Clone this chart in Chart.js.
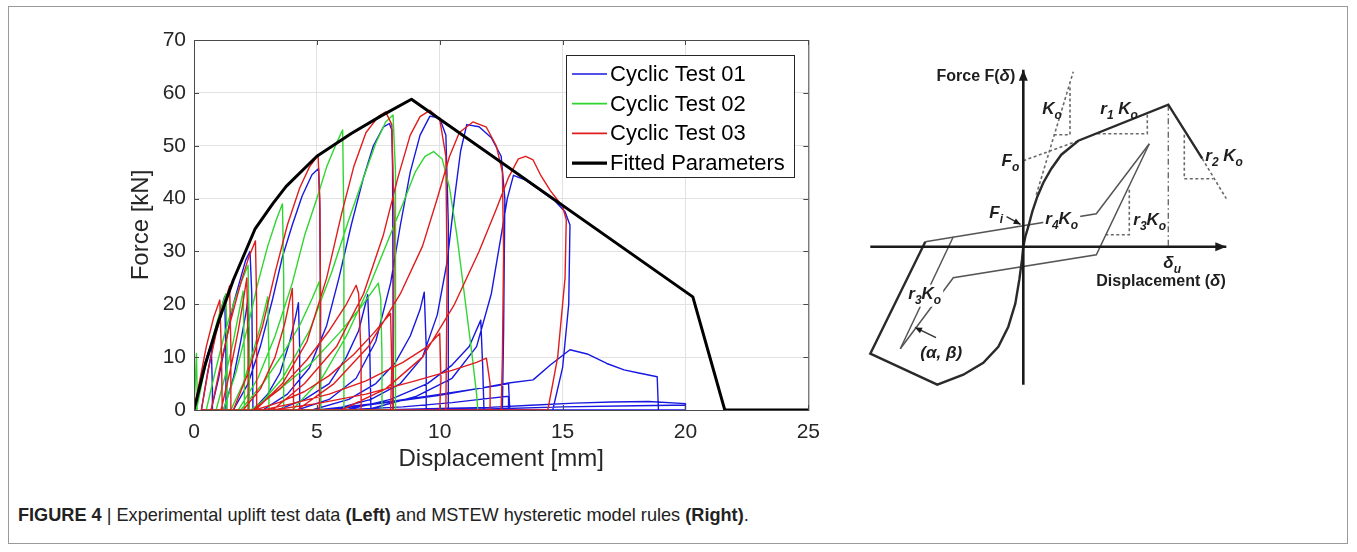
<!DOCTYPE html>
<html>
<head>
<meta charset="utf-8">
<script src="https://cdn.jsdelivr.net/npm/chart.js@4.4.1/dist/chart.umd.min.js"></script>
<style>
    body { margin: 0; background: #fff; width: 1357px; height: 552px; overflow: hidden; position: relative; font-family: "Liberation Sans", Arial, sans-serif; }
    #frame { position: absolute; left: 8px; top: 6px; width: 1340px; height: 538px; border: 1px solid #9a9a9a; box-sizing: border-box; }
    #leftChart { position: absolute; left: 0; top: 0; }
    #rightChart { position: absolute; left: 830px; top: 40px; }
    #caption { position: absolute; left: 18px; top: 504px; font: 19px "Liberation Sans", sans-serif; color: #222; white-space: nowrap; transform: scaleX(0.955); transform-origin: left top; }
</style>
</head>
<body>
<div id="frame"></div>
<canvas id="leftChart" width="830" height="480"></canvas>
<canvas id="rightChart" width="520" height="380"></canvas>
<div id="caption"><b>FIGURE 4</b> | Experimental uplift test data <b>(Left)</b> and MSTEW hysteretic model rules <b>(Right)</b>.</div>
<script>
// ---- left panel: uplift test data [mm, kN] ----
const xTicks = [0, 5, 10, 15, 20, 25];
const yTicks = [0, 10, 20, 30, 40, 50, 60, 70];
const seriesNames = ['Cyclic Test 01', 'Cyclic Test 02', 'Cyclic Test 03', 'Fitted Parameters'];

const test01 = [
    [0,0],[0.2,4],[0.45,9],[0.7,12.5],[0.75,4],[0.75,0],
    [0.3,0],[0.55,7],[0.85,14],[1.1,19],[1.25,21.5],[1.3,10],[1.3,0],
    [0.7,0],[1.0,6],[1.3,13],[1.6,20],[1.9,25],[2.1,28.3],[2.28,30],[2.35,22],[2.4,0],
    [1.2,0],[1.6,6],[1.9,13],[2.1,18],[2.2,21],[2.25,8],[2.25,0],
    [1.6,0],[2.2,5],[2.7,12],[3.2,21],[3.6,29],[4.0,35],[4.4,40.5],[4.8,44.5],[5.07,45.7],[5.12,38],[5.15,18],[5.15,0],
    [2.4,0],[3.0,3],[3.5,7],[3.9,13],[4.15,18],[4.25,20.3],[4.3,12],[4.3,0],
    [2.8,0],[3.8,3],[4.7,8],[5.4,16],[5.9,25],[6.4,35],[6.9,44],[7.3,50],[7.7,53.5],[7.95,54.2],[8.05,53],[8.08,46],[8.1,22],[8.1,0],
    [3.4,0],[4.5,2],[5.5,5],[6.2,10],[6.7,15],[7.07,21.8],[7.15,12],[7.2,0],
    [4.2,0],[5.5,2],[6.6,6],[7.4,13],[8.0,24],[8.4,35],[8.8,45],[9.2,52],[9.6,55.6],[10.0,55.2],[10.25,52],[10.35,35],[10.35,0],
    [4.8,0],[6.3,2],[7.4,5],[8.2,9],[8.8,14],[9.2,19],[9.37,22.3],[9.45,12],[9.45,0],
    [5.6,0],[7.2,2],[8.4,5],[9.3,10],[9.9,18],[10.3,28],[10.6,40],[10.85,49],[11.1,54],[11.6,53.6],[12.1,51.5],[12.5,48],[12.65,40],[12.6,15],[12.55,0],
    [6.2,0],[8,2],[9.5,5],[10.5,8.5],[11.2,12],[11.67,17],[11.75,8],[11.8,0],
    [7.0,0],[9,2.5],[10.5,6],[11.5,12],[12.1,22],[12.5,33],[12.75,40],[13.0,44.4],[13.5,43.5],[14.1,41.5],[14.7,39.5],[15.1,37.5],[15.3,35],[15.25,20],[15.0,8],[14.6,0],
    [5.0,0],[7.5,1.3],[9.5,2.6],[11.2,3.8],[12.3,4.6],[12.8,5.0],[12.85,0],
    [5.5,0],[8,1.5],[10,2.8],[11.5,4],[12.8,5.1],[13.8,5.7],[14.5,8.5],[15.3,11.4],[16,10.6],[16.8,8.8],[17.5,7.6],[18.1,7],[18.85,6.3],[18.9,0],
    [6.0,0],[8.5,0.6],[10.5,1.4],[12,2.2],[12.8,2.6],[12.8,0],
    [7.5,0],[10,0.3],[12,0.5],[13.7,0.9],[15.5,1.3],[17,1.5],[18.5,1.6],[20,1.2],[20,0],
    [8.5,0],[12,0.2],[15,0.6],[18,0.8],[19.5,0.9],[20,0.9],[20,0]
];

const test02 = [
    [0,0],[0.05,5],[0.1,10.7],[0.13,3],[0.13,0],
    [0.1,0],[0.4,7],[0.75,13.5],[1.05,18.5],[1.3,22],[1.35,10],[1.35,0],
    [0.5,0],[0.85,7],[1.25,14.5],[1.6,20],[1.95,24.5],[2.2,27.4],[2.25,15],[2.25,0],
    [0.9,0],[1.3,7],[1.6,13],[1.85,19],[2.0,22.5],[2.05,10],[2.05,0],
    [1.2,0],[1.7,7],[2.2,16],[2.6,24],[3.0,31],[3.35,36],[3.6,39],[3.65,25],[3.65,0],
    [1.5,0],[2.0,5],[2.4,11],[2.75,16.5],[3.0,21.4],[3.05,10],[3.05,0],
    [1.8,0],[2.6,6],[3.3,14],[4.0,24],[4.5,33],[5.0,40],[5.4,46],[5.8,50.5],[6.05,53],[6.1,35],[6.1,0],
    [1.9,0],[2.8,5],[3.6,10.5],[4.3,16],[4.8,21],[5.1,24.3],[5.15,12],[5.15,0],
    [2.5,0],[3.6,6],[4.7,15],[5.6,26],[6.3,36],[6.9,44],[7.4,50.5],[7.8,54.5],[8.1,55.8],[8.2,45],[8.2,20],[8.2,0],
    [2.3,0],[3.5,4],[4.8,9],[5.9,14.5],[6.8,19.5],[7.5,24],[7.6,21],[7.65,10],[7.65,0],
    [4.0,0],[5.2,6],[6.2,14],[7.1,23],[7.8,31],[8.5,39],[9.0,45],[9.4,48],[9.75,48.9],[10.1,47.5],[10.4,42],[10.7,33],[11.0,22],[11.3,11],[11.5,3],[11.55,0]
];

const test03 = [
    [0,0],[0.25,6],[0.5,12],[0.8,17.5],[1.05,20.8],[1.12,10],[1.15,0],
    [0.3,0],[0.6,8],[0.9,14.5],[1.2,19.5],[1.45,23.5],[1.5,12],[1.5,0],
    [0.7,0],[1.1,9],[1.5,17],[1.9,24],[2.2,28.5],[2.5,32],[2.55,20],[2.55,0],
    [1.1,0],[1.5,8],[1.8,15],[2.0,20.5],[2.15,25],[2.2,12],[2.2,0],
    [1.6,0],[2.2,7],[2.8,16],[3.3,26],[3.8,35],[4.3,42],[4.7,46],[5.05,48.2],[5.12,40],[5.15,20],[5.1,0],
    [2.0,0],[2.7,4],[3.3,10],[3.7,16.5],[4.0,23],[4.05,12],[4.05,0],
    [2.5,0],[3.6,5],[4.6,13],[5.4,25],[6.0,37],[6.5,46],[7.0,52.5],[7.5,55.5],[7.8,56.4],[8.05,54],[8.15,35],[8.1,0],
    [2.4,0],[3.5,4],[4.6,9.5],[5.5,15],[6.2,20],[6.6,23.6],[6.7,22],[6.8,10],[6.8,0],
    [3.2,0],[4.5,5],[5.8,12],[6.9,22],[7.7,33],[8.3,44],[8.8,52],[9.2,55.5],[9.6,56.7],[10.0,55],[10.25,48],[10.3,25],[10.25,0],
    [2.5,0],[3.5,1.5],[4.5,3.5],[5.5,6.5],[6.5,10.5],[7.3,14.5],[8.0,18.3],[8.05,8],[8.0,0],
    [4.2,0],[5.7,5],[7.1,12],[8.4,22],[9.3,31],[9.9,40],[10.4,48],[10.8,52.5],[11.35,54.5],[11.9,53.5],[12.3,50],[12.55,45],[12.6,30],[12.55,10],[12.5,0],
    [2.8,0],[4.0,1.2],[5.5,3],[7.0,5.5],[8.5,9],[9.5,12],[10.0,14.5],[10.05,6],[10.0,0],
    [6.0,0],[7.8,4],[9.3,10],[10.6,20],[11.6,30],[12.3,38],[12.8,44],[13.2,47.5],[13.5,48],[13.8,47.3],[14.1,44.5],[14.5,41.5],[15.0,38.5],[15.15,36],[15.1,25],[14.8,10],[14.4,0],
    [3.2,0],[5.0,1.2],[7.0,3],[9.0,5.5],[10.5,7.5],[11.5,9],[11.9,9.8],[12.05,5],[12.05,0]
];

const fitted = [[0,0],[0.45,8.5],[1,16.8],[1.6,24.6],[2.48,34.2],[3.2,39],[3.75,42.3],[5,48],[6.4,52.3],[7.6,55.6],[8.85,58.8],[20.3,21.4],[21.6,0],[25,0]];

const seriesColors = ['#1818e0', '#2fd62f', '#e01c1c', '#000000'];
const seriesWidths = [1.4, 1.4, 1.4, 3];

const toPts = arr => arr.map(([x, y]) => ({ x, y }));

// MATLAB-ish box, inward ticks and legend
const matlabBox = {
    id: 'matlabBox',
    afterDatasetsDraw(chart) {
        const { ctx, chartArea: a, scales } = chart;
        ctx.save();
        ctx.strokeStyle = '#4a4a4a';
        ctx.lineWidth = 1;
        ctx.strokeRect(a.left + 0.5, a.top + 0.5, a.right - a.left, a.bottom - a.top);
        ctx.beginPath();
        xTicks.forEach(v => {
            const px = Math.round(scales.x.getPixelForValue(v)) + 0.5;
            ctx.moveTo(px, a.bottom); ctx.lineTo(px, a.bottom - 5);
            ctx.moveTo(px, a.top); ctx.lineTo(px, a.top + 5);
        });
        yTicks.forEach(v => {
            const py = Math.round(scales.y.getPixelForValue(v)) + 0.5;
            ctx.moveTo(a.left, py); ctx.lineTo(a.left + 5, py);
            ctx.moveTo(a.right, py); ctx.lineTo(a.right - 5, py);
        });
        ctx.stroke();
        ctx.restore();
    },
    afterDraw(chart) {
        const ctx = chart.ctx;
        const box = { l: 566, t: 55, r: 794, b: 177 };
        ctx.save();
        ctx.fillStyle = '#fff';
        ctx.fillRect(box.l, box.t, box.r - box.l, box.b - box.t);
        ctx.strokeStyle = '#262626';
        ctx.lineWidth = 1;
        ctx.strokeRect(box.l + 0.5, box.t + 0.5, box.r - box.l, box.b - box.t);
        ctx.font = '22px "Liberation Sans"';
        ctx.textBaseline = 'middle';
        seriesNames.forEach((name, i) => {
            const y = 74 + i * 29.7;
            ctx.strokeStyle = seriesColors[i];
            ctx.lineWidth = seriesWidths[i] + 0.3;
            ctx.beginPath(); ctx.moveTo(572, y); ctx.lineTo(607, y); ctx.stroke();
            ctx.fillStyle = '#000';
            ctx.fillText(name, 610, y + 1);
        });
        ctx.restore();
    }
};

const leftSets = [test01, test02, test03, fitted].map((arr, i) => ({
    label: seriesNames[i],
    data: toPts(arr),
    showLine: true,
    borderColor: seriesColors[i],
    borderWidth: seriesWidths[i],
    borderJoinStyle: 'round',
    pointRadius: 0,
    tension: 0,
    order: 3 - i
}));

new Chart(document.getElementById('leftChart'), {
    type: 'scatter',
    data: { datasets: leftSets },
    options: {
        responsive: false,
        animation: false,
        devicePixelRatio: 1,
        layout: { padding: { left: 0, top: 40, right: 20, bottom: 0 } },
        plugins: { legend: { display: false }, tooltip: { enabled: false } },
        scales: {
            x: {
                type: 'linear', min: 0, max: 25,
                afterBuildTicks: s => { s.ticks = xTicks.map(v => ({ value: v })); },
                ticks: { font: { family: 'Liberation Sans', size: 21 }, color: '#262626', padding: 10 },
                grid: { color: '#e2e2e2', drawTicks: false },
                border: { display: false },
                title: { display: true, text: 'Displacement [mm]', font: { family: 'Liberation Sans', size: 24 }, color: '#262626', padding: { top: 0, bottom: 6 } },
                afterFit: s => { s.height = 70; }
            },
            y: {
                type: 'linear', min: 0, max: 70,
                afterBuildTicks: s => { s.ticks = yTicks.map(v => ({ value: v })); },
                ticks: { font: { family: 'Liberation Sans', size: 21 }, color: '#262626', padding: 8 },
                grid: { color: '#e2e2e2', drawTicks: false },
                border: { display: false },
                title: { display: true, text: 'Force [kN]', font: { family: 'Liberation Sans', size: 24 }, color: '#262626', padding: { top: 127, bottom: 0 } },
                afterFit: s => { s.width = 194; }
            }
        }
    },
    plugins: [matlabBox]
});

// ---- right panel: hysteretic model sketch (diagram units, origin at axes crossing) ----
const modelAxisX = [[-153, 0], [203, 0]];
const modelAxisY = [[0, -138], [0, 177]];
const modelBackbone = [[-98,5],[-153,-107],[-86,-138],[-60,-128],[-40,-116],[-25,-100],[-15,-80],[-8,-57],[-4,-33],[-1.3,-13],[0,0],[2,10],[5,20],[9,35],[14,50],[20,64],[28,78],[38,92],[55,106],[145,142],[179,88]];
const modelReload = [[-98,5],[73,33],[126,103]];
const modelUnload = [[126,103],[73,-8],[-70,-31],[-123,-102]];
const modelReload2 = [[-70,10],[-123,-102]];
const modelKo = [[13,52],[50,175]];
const modelKoTri = [[30.5,112],[46.7,112],[46.7,162]];
const modelFo = [[0,86],[55,106]];
const modelR1Tri = [[74,113],[124,113],[124,132]];
const modelR2Ext = [[179,88],[203,48]];
const modelR2Tri = [[161,112],[161,68],[190,68]];
const modelR3Tri = [[106,57],[106,12],[82,12]];
const modelDeltaU = [[145,142],[145,0]];
const arrowFi = [[-16.7,30],[-2.7,22.3]];
const arrowAB = [[-87.3,-91],[-108.3,-80.7]];

const modelLabels = [
    { x: -8, y: 170, align: 'right', segs: [['Force F(', 'b'], ['δ', 'bi'], [')', 'b']] },
    { x: 19, y: 137, segs: [['K', 'bi'], ['o', 'sub']] },
    { x: 77, y: 137, segs: [['r', 'bi'], ['1', 'sub'], [' K', 'bi'], ['o', 'sub']] },
    { x: -4, y: 85, align: 'right', segs: [['F', 'bi'], ['o', 'sub']] },
    { x: 182, y: 90, segs: [['r', 'bi'], ['2', 'sub'], [' K', 'bi'], ['o', 'sub']] },
    { x: -34, y: 33, segs: [['F', 'bi'], ['i', 'sub']] },
    { x: 22, y: 27, bg: true, segs: [['r', 'bi'], ['4', 'sub'], ['K', 'bi'], ['o', 'sub']] },
    { x: 110, y: 26, segs: [['r', 'bi'], ['3', 'sub'], ['K', 'bi'], ['o', 'sub']] },
    { x: 140, y: -17, segs: [['δ', 'bi'], ['u', 'sub']] },
    { x: 73, y: -35, segs: [['Displacement (', 'b'], ['δ', 'bi'], [')', 'b']] },
    { x: -115, y: -48, bg: true, segs: [['r', 'bi'], ['3', 'sub'], ['K', 'bi'], ['o', 'sub']] },
    { x: -103, y: -107, segs: [['(α, β)', 'bi']] }
];

const segFont = st => st === 'b' ? 'bold 16px "Liberation Sans"'
    : st === 'sub' ? 'bold italic 12px "Liberation Sans"'
    : 'bold italic 17px "Liberation Sans"';

function drawHead(ctx, x1, y1, x2, y2, len, half) {
    const ang = Math.atan2(y2 - y1, x2 - x1);
    ctx.beginPath();
    ctx.moveTo(x2, y2);
    ctx.lineTo(x2 - len * Math.cos(ang) + half * Math.sin(ang), y2 - len * Math.sin(ang) - half * Math.cos(ang));
    ctx.lineTo(x2 - len * Math.cos(ang) - half * Math.sin(ang), y2 - len * Math.sin(ang) + half * Math.cos(ang));
    ctx.closePath();
    ctx.fill();
}

const sketchDecor = {
    id: 'sketchDecor',
    afterDatasetsDraw(chart) {
        const { ctx, scales } = chart;
        const P = ([x, y]) => [scales.x.getPixelForValue(x), scales.y.getPixelForValue(y)];
        ctx.save();
        ctx.fillStyle = '#1a1a1a';
        [[modelAxisX, 11, 4.5], [modelAxisY, 11, 4.5], [arrowFi, 7, 3], [arrowAB, 7, 3]].forEach(([seg, len, half]) => {
            const a = P(seg[0]), b = P(seg[1]);
            drawHead(ctx, a[0], a[1], b[0], b[1], len, half);
        });
        ctx.textBaseline = 'middle';
        modelLabels.forEach(lb => {
            const [px, py] = P([lb.x, lb.y]);
            let w = 0;
            lb.segs.forEach(([t, st]) => { ctx.font = segFont(st); w += ctx.measureText(t).width; });
            let cx = lb.align === 'right' ? px - w : px;
            if (lb.bg) { ctx.fillStyle = '#fff'; ctx.fillRect(cx - 2, py - 10, w + 4, 22); }
            ctx.fillStyle = '#1e1e1e';
            lb.segs.forEach(([t, st]) => {
                ctx.font = segFont(st);
                ctx.fillText(t, cx, py + (st === 'sub' ? 6 : 0));
                cx += ctx.measureText(t).width;
            });
        });
        ctx.restore();
    }
};

const solid = (arr, w, c) => ({ data: toPts(arr), showLine: true, borderColor: c, borderWidth: w, pointRadius: 0, tension: 0 });
const dotted = arr => Object.assign(solid(arr, 1.6, '#6a6a6a'), { borderDash: [3, 2.5] });

const rightSets = [
    solid(modelAxisX, 2.6, '#1a1a1a'),
    solid(modelAxisY, 2.6, '#1a1a1a'),
    solid(modelBackbone, 2.4, '#2a2a2a'),
    solid(modelReload, 1.5, '#555'),
    solid(modelUnload, 1.5, '#555'),
    solid(modelReload2, 1.5, '#555'),
    solid(arrowFi, 1.5, '#333'),
    solid(arrowAB, 1.5, '#333'),
    dotted(modelKo), dotted(modelKoTri), dotted(modelFo), dotted(modelR1Tri),
    dotted(modelR2Ext), dotted(modelR2Tri), dotted(modelR3Tri),
    Object.assign(solid(modelDeltaU, 1.4, '#6a6a6a'), { borderDash: [6, 3, 1.5, 3] })
];

new Chart(document.getElementById('rightChart'), {
    type: 'scatter',
    data: { datasets: rightSets },
    options: {
        responsive: false,
        animation: false,
        devicePixelRatio: 1,
        layout: { padding: 0 },
        plugins: { legend: { display: false }, tooltip: { enabled: false } },
        scales: {
            x: { type: 'linear', display: false, min: -193.3, max: 326.7 },
            y: { type: 'linear', display: false, min: -173.3, max: 206.7 }
        }
    },
    plugins: [sketchDecor]
});
</script>
</body>
</html>
